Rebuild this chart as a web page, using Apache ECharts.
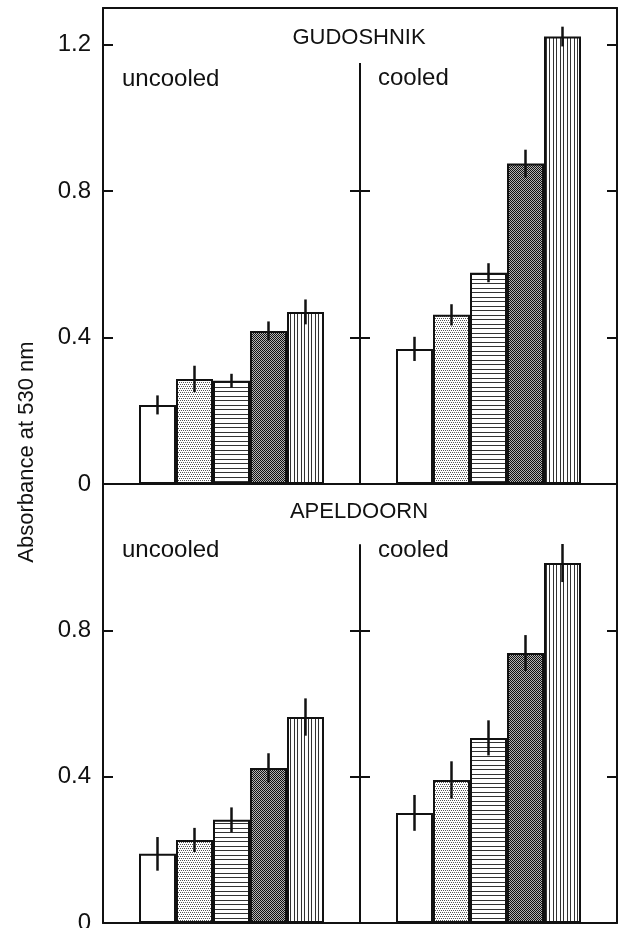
<!DOCTYPE html>
<html>
<head>
<meta charset="utf-8">
<script src="https://cdn.jsdelivr.net/npm/echarts@6/dist/echarts.min.js"></script>
<style>
  html, body { margin: 0; padding: 0; background: #fff; }
  #chart { width: 624px; height: 928px; }
</style>
</head>
<body>
<div id="chart"></div>
<script>
// five treatments, drawn left to right in every panel
const slots = [0, 1, 2, 3, 4];

// GUDOSHNIK
const gudUncooled = [0.216, 0.287, 0.282, 0.418, 0.470];
const gudUncooledErr = [0.026, 0.036, 0.019, 0.026, 0.034];
const gudCooled = [0.369, 0.462, 0.577, 0.875, 1.222];
const gudCooledErr = [0.033, 0.029, 0.026, 0.038, 0.027];

// APELDOORN
const apeUncooled = [0.189, 0.227, 0.282, 0.424, 0.563];
const apeUncooledErr = [0.046, 0.033, 0.034, 0.040, 0.051];
const apeCooled = [0.301, 0.391, 0.506, 0.738, 0.984];
const apeCooledErr = [0.049, 0.051, 0.048, 0.049, 0.052];

const topTicks = [0, 0.4, 0.8, 1.2];
const bottomTicks = [0, 0.4, 0.8];

const INK = '#111';
const FONT = '"Liberation Sans", Arial, sans-serif';

// fill patterns for the five bars
function tile(w, h, draw) {
    const c = document.createElement('canvas');
    c.width = w;
    c.height = h;
    const ctx = c.getContext('2d');
    ctx.fillStyle = '#fff';
    ctx.fillRect(0, 0, w, h);
    draw(ctx);
    return { image: c, repeat: 'repeat' };
}
const fills = [
    '#fff',
    tile(4, 4, ctx => { // light stipple
        ctx.fillStyle = '#555';
        [[0, 0], [2, 0], [1, 2], [3, 2]].forEach(p => ctx.fillRect(p[0], p[1], 1, 1));
    }),
    tile(1, 9, ctx => { // horizontal lines
        ctx.fillStyle = '#333';
        ctx.fillRect(0, 0, 1, 1);
        ctx.fillRect(0, 4, 1, 1);
    }),
    tile(2, 2, ctx => { // dark check
        ctx.fillStyle = '#111';
        ctx.fillRect(0, 0, 1, 1);
        ctx.fillRect(1, 1, 1, 1);
        ctx.fillStyle = '#b4b4b4';
        ctx.fillRect(1, 0, 1, 1);
        ctx.fillRect(0, 1, 1, 1);
    }),
    tile(7, 1, ctx => { // vertical lines
        ctx.fillStyle = '#333';
        ctx.fillRect(0, 0, 1, 1);
        ctx.fillRect(3, 0, 1, 1);
    })
];

const xMin = -1.473, xMax = 5.473;

const panels = [
    { grid: { left: 103, top: 8, width: 257, height: 476 }, max: 1.3, values: gudUncooled, errors: gudUncooledErr,
      leftTicks: topTicks, rightTicks: [0.4, 0.8], labels: topTicks, side: 'left', topLine: true },
    { grid: { left: 360, top: 8, width: 257, height: 476 }, max: 1.3, values: gudCooled, errors: gudCooledErr,
      leftTicks: [0.4, 0.8], rightTicks: [0.4, 0.8, 1.2], side: 'right', topLine: true, divider: 1.15 },
    { grid: { left: 103, top: 484, width: 257, height: 439 }, max: 1.2, values: apeUncooled, errors: apeUncooledErr,
      leftTicks: bottomTicks, rightTicks: [0.4, 0.8], labels: bottomTicks, side: 'left', topLine: false },
    { grid: { left: 360, top: 484, width: 257, height: 439 }, max: 1.2, values: apeCooled, errors: apeCooledErr,
      leftTicks: [0.4, 0.8], rightTicks: [0.4, 0.8], side: 'right', topLine: false, divider: 1.035 }
];

const grid = [], xAxis = [], yAxis = [], series = [];

panels.forEach((p, i) => {
    grid.push(Object.assign({ outerBoundsMode: 'none', containLabel: false }, p.grid));

    const xBase = {
        type: 'value', gridIndex: i, min: xMin, max: xMax,
        axisTick: { show: false }, axisLabel: { show: false }, splitLine: { show: false }
    };
    xAxis.push(Object.assign({}, xBase, {
        position: 'bottom',
        axisLine: { show: true, onZero: false, lineStyle: { color: INK, width: 2 } }
    }));
    xAxis.push(Object.assign({}, xBase, {
        position: 'top',
        axisLine: { show: p.topLine, onZero: false, lineStyle: { color: INK, width: 2 } }
    }));

    const yBase = {
        type: 'value', gridIndex: i, min: 0, max: p.max, interval: 0.4,
        splitLine: { show: false }
    };
    yAxis.push(Object.assign({}, yBase, {
        position: 'left',
        axisLine: { show: p.side === 'left', onZero: false, lineStyle: { color: INK, width: 2 } },
        axisTick: { show: true, inside: true, length: 10, customValues: p.leftTicks, lineStyle: { color: INK, width: 2 } },
        axisLabel: p.labels ? {
            show: true, customValues: p.labels, margin: 12, color: INK, fontSize: 24, fontFamily: FONT,
            formatter: v => v === 0 ? '0' : v.toFixed(1)
        } : { show: false }
    }));
    yAxis.push(Object.assign({}, yBase, {
        position: 'right',
        axisLine: { show: p.side === 'right', onZero: false, lineStyle: { color: INK, width: 2 } },
        axisTick: { show: true, inside: true, length: 10, customValues: p.rightTicks, lineStyle: { color: INK, width: 2 } },
        axisLabel: { show: false }
    }));

    const bar = {
        type: 'bar',
        xAxisIndex: i * 2,
        yAxisIndex: i * 2,
        barWidth: 37,
        clip: false,
        silent: true,
        data: slots.map(s => ({
            value: [s, p.values[s]],
            itemStyle: { color: fills[s], borderColor: INK, borderWidth: 2 }
        }))
    };
    if (p.divider) {
        bar.markLine = {
            silent: true,
            symbol: 'none',
            label: { show: false },
            lineStyle: { color: INK, width: 2, type: 'solid' },
            data: [[{ coord: [xMin, 0] }, { coord: [xMin, p.divider] }]]
        };
    }
    series.push(bar);

    series.push({
        type: 'custom',
        xAxisIndex: i * 2,
        yAxisIndex: i * 2,
        silent: true,
        z: 5,
        data: slots.map(s => [s, p.values[s], p.errors[s]]),
        renderItem: (params, api) => {
            const x = api.value(0), v = api.value(1), e = api.value(2);
            const hi = api.coord([x, v + e]);
            const lo = api.coord([x, v - e]);
            return {
                type: 'line',
                shape: { x1: hi[0], y1: hi[1], x2: lo[0], y2: lo[1] },
                style: { stroke: INK, lineWidth: 2.5 }
            };
        }
    });
});

const textStyle = (text, size) => ({ text, fill: INK, font: `${size}px ${FONT}` });

const graphic = [
    { type: 'text', x: 359, y: 38, style: Object.assign(textStyle('GUDOSHNIK', 22), { align: 'center', verticalAlign: 'middle' }) },
    { type: 'text', x: 359, y: 512, style: Object.assign(textStyle('APELDOORN', 22), { align: 'center', verticalAlign: 'middle' }) },
    { type: 'text', x: 122, y: 79, style: Object.assign(textStyle('uncooled', 24), { align: 'left', verticalAlign: 'middle' }) },
    { type: 'text', x: 378, y: 78, style: Object.assign(textStyle('cooled', 24), { align: 'left', verticalAlign: 'middle' }) },
    { type: 'text', x: 122, y: 550, style: Object.assign(textStyle('uncooled', 24), { align: 'left', verticalAlign: 'middle' }) },
    { type: 'text', x: 378, y: 550, style: Object.assign(textStyle('cooled', 24), { align: 'left', verticalAlign: 'middle' }) },
    { type: 'text', x: 27, y: 452, rotation: Math.PI / 2,
      style: Object.assign(textStyle('Absorbance at 530 nm', 22), { align: 'center', verticalAlign: 'middle' }) }
];

const chart = echarts.init(document.getElementById('chart'), null, { renderer: 'canvas' });
chart.setOption({
    animation: false,
    backgroundColor: '#fff',
    grid,
    xAxis,
    yAxis,
    series,
    graphic
});
</script>
</body>
</html>
